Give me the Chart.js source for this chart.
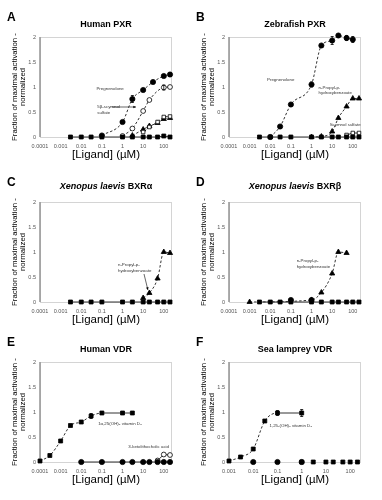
<!DOCTYPE html>
<html>
<head>
<meta charset="utf-8">
<script src="https://cdn.jsdelivr.net/npm/chart.js@4.4.1/dist/chart.umd.min.js"></script>
<style>
  body { margin: 0; background: #fff; width: 382px; height: 500px; position: relative; overflow: hidden;
         font-family: "Liberation Sans", Arial, sans-serif; }
  .pnl { position: absolute; width: 191px; height: 165px; }
  .pnl canvas { position: absolute; left: 0; top: 0; }
  .lt { position: absolute; left: 7px; top: 11px; font-weight: bold; font-size: 12px; line-height: 12px; }
  .tt { position: absolute; left: 40px; width: 132px; text-align: center; font-weight: bold;
        font-size: 9px; line-height: 9px; white-space: nowrap; }
</style>
</head>
<body>
<div class="pnl" style="left:0;top:0"><canvas id="cA" width="191" height="165"></canvas><div class="lt">A</div><div class="tt" style="top:20px">Human PXR</div></div>
<div class="pnl" style="left:189px;top:0"><canvas id="cB" width="191" height="165"></canvas><div class="lt">B</div><div class="tt" style="top:20px">Zebrafish PXR</div></div>
<div class="pnl" style="left:0;top:165px"><canvas id="cC" width="191" height="165"></canvas><div class="lt">C</div><div class="tt" style="top:17px"><i>Xenopus laevis</i> BXRα</div></div>
<div class="pnl" style="left:189px;top:165px"><canvas id="cD" width="191" height="165"></canvas><div class="lt">D</div><div class="tt" style="top:17px"><i>Xenopus laevis</i> BXRβ</div></div>
<div class="pnl" style="left:0;top:325px"><canvas id="cE" width="191" height="165"></canvas><div class="lt">E</div><div class="tt" style="top:20px">Human VDR</div></div>
<div class="pnl" style="left:189px;top:325px"><canvas id="cF" width="191" height="165"></canvas><div class="lt">F</div><div class="tt" style="top:20px">Sea lamprey VDR</div></div>

<script>
// axes
const X_TICKS = [0.0001, 0.001, 0.01, 0.1, 1, 10, 100];
const X_LABELS = ['0.0001', '0.001', '0.01', '0.1', '1', '10', '100'];
const X_TICKS_F = [0.001, 0.01, 0.1, 1, 10, 100];
const X_LABELS_F = ['0.001', '0.01', '0.1', '1', '10', '100'];
const Y_TICKS = [0, 0.5, 1, 1.5, 2];
const Y_LABELS = ['0', '0.5', '1', '1.5', '2'];

// A - human PXR
const hPXR_ctrlConc = [0.003, 0.01, 0.03, 0.1, 1, 3, 10, 20, 50, 100, 200];
const hPXR_ctrl = [0, 0, 0, 0, 0, 0, 0, 0, 0, 0.02, 0];
const hPXR_pregConc = [0.1, 1, 3, 10, 30, 100, 200];
const hPXR_preg = [0.03, 0.3, 0.76, 0.94, 1.1, 1.22, 1.25];
const hPXR_pregErr = [null, null, 0.07, null, null, null, 0.04];
const hPXR_scymConc = [1, 3, 10, 20, 100, 200];
const hPXR_scym = [0.02, 0.17, 0.52, 0.74, 0.99, 1.0];
const hPXR_triConc = [3, 10, 20, 50, 100, 200];
const hPXR_tri = [0.03, 0.15, 0.22, 0.28, 0.36, 0.38];
const hPXR_osqConc = [10, 20, 50, 100, 200];
const hPXR_osq = [0.1, 0.2, 0.3, 0.4, 0.41];

// B - zebrafish PXR
const zPXR_ctrlConc = [0.003, 0.01, 0.03, 0.1, 1, 3, 10, 20, 50, 100, 200];
const zPXR_ctrl = [0, 0, 0, 0, 0, 0, 0, 0, 0, 0, 0];
const zPXR_pregConc = [0.01, 0.03, 0.1, 1, 3, 10, 20, 50, 100];
const zPXR_preg = [0, 0.21, 0.65, 1.05, 1.83, 1.93, 2.03, 1.98, 1.95];
const zPXR_pregErr = [null, null, null, 0.05, null, 0.08, 0.03, 0.05, 0.06];
const zPXR_propConc = [1, 3, 10, 20, 50, 100, 200];
const zPXR_prop = [0, 0.01, 0.11, 0.38, 0.61, 0.77, 0.77];
const zPXR_scymConc = [50, 100, 200];
const zPXR_scym = [0.04, 0.08, 0.08];

// C - Xenopus BXRalpha
const xBXRa_ctrlConc = [0.003, 0.01, 0.03, 0.1, 1, 3, 10, 20, 50, 100, 200];
const xBXRa_ctrl = [0, 0, 0, 0, 0, 0, 0, 0, 0, 0, 0];
const xBXRa_propConc = [10, 20, 50, 100, 200];
const xBXRa_prop = [0.08, 0.18, 0.47, 1.0, 0.98];

// D - Xenopus BXRbeta
const xBXRb_ctrlConc = [0.003, 0.01, 0.03, 0.1, 1, 3, 10, 20, 50, 100, 200];
const xBXRb_ctrl = [0, 0, 0, 0, 0, 0, 0, 0, 0, 0, 0];
const xBXRb_circConc = [0.1, 1];
const xBXRb_circ = [0.04, 0.04];
const xBXRb_propConc = [0.001, 1, 3, 10, 20, 50];
const xBXRb_prop = [0, 0.04, 0.19, 0.57, 1.0, 0.98];

// E - human VDR
const hVDR_vdConc = [0.0001, 0.0003, 0.001, 0.003, 0.01, 0.03, 0.1, 1, 3];
const hVDR_vd = [0.02, 0.13, 0.42, 0.73, 0.8, 0.92, 0.98, 0.98, 0.98];
const hVDR_vdErr = [null, null, null, null, null, 0.05, null, null, null];
const hVDR_ctrlConc = [0.01, 0.1, 1, 3, 10, 20, 50, 100, 200];
const hVDR_ctrl = [0, 0, 0, 0, 0, 0, 0, 0, 0];
const hVDR_klcaConc = [50, 100, 200];
const hVDR_klca = [0.03, 0.15, 0.14];

// F - sea lamprey VDR
const lVDR_vdConc = [0.001, 0.003, 0.01, 0.03, 0.1, 1];
const lVDR_vd = [0.02, 0.1, 0.26, 0.82, 0.98, 0.98];
const lVDR_vdErr = [null, null, null, null, 0.05, 0.07];
const lVDR_circConc = [0.01, 0.1, 1];
const lVDR_circ = [0, 0, 0];
const lVDR_sqConc = [1, 3, 10, 20, 50, 100, 200];
const lVDR_sq = [0, 0, 0, 0, 0, 0, 0];

const MARKS = {
  fc: { style: 'circle', r: 2.6, fill: '#000' },
  oc: { style: 'circle', r: 2.4, fill: '#fff' },
  fs: { style: 'rect', r: 2.8, fill: '#000' },
  os: { style: 'rect', r: 2.5, fill: '#fff' },
  ft: { style: 'triangle', r: 3, fill: '#000' }
};

function series(xs, ys, mark, line, extra) {
  const m = MARKS[mark];
  return Object.assign({
    data: xs.map((v, i) => ({ x: v, y: ys[i] })),
    pointStyle: m.style, pointRadius: m.r, pointBackgroundColor: m.fill,
    pointBorderColor: '#000', pointBorderWidth: 0.8,
    showLine: line !== 'none', borderColor: '#333',
    borderWidth: 1,
    borderDash: line === 'dash' ? [2.5, 2] : [],
    cubicInterpolationMode: line === 'dash' ? 'monotone' : 'default',
    clip: false
  }, extra || {});
}

const decor = {
  id: 'decor',
  beforeDatasetsDraw(chart) {
    const { ctx, chartArea: a } = chart;
    ctx.save();
    ctx.strokeStyle = '#d4d4d4';
    ctx.lineWidth = 1;
    ctx.strokeRect(a.left + 0.5, a.top + 0.5, a.right - a.left - 1, a.bottom - a.top);
    ctx.strokeStyle = '#9a9a9a';
    ctx.lineWidth = 1.6;
    ctx.beginPath();
    ctx.moveTo(a.left, a.top);
    ctx.lineTo(a.left, a.bottom);
    ctx.stroke();
    ctx.restore();
  },
  afterDatasetsDraw(chart, args, opts) {
    const { ctx, scales: { x, y } } = chart;
    ctx.save();
    ctx.strokeStyle = '#000';
    ctx.lineWidth = 0.8;
    chart.data.datasets.forEach(ds => {
      if (!ds.errs) return;
      ds.data.forEach((p, i) => {
        const e = ds.errs[i];
        if (!e) return;
        const px = x.getPixelForValue(p.x);
        const y0 = y.getPixelForValue(p.y - e), y1 = y.getPixelForValue(p.y + e);
        ctx.beginPath();
        ctx.moveTo(px, y0); ctx.lineTo(px, y1);
        ctx.moveTo(px - 1.5, y0); ctx.lineTo(px + 1.5, y0);
        ctx.moveTo(px - 1.5, y1); ctx.lineTo(px + 1.5, y1);
        ctx.stroke();
      });
    });
    ctx.fillStyle = '#333';
    ctx.font = '4.4px "Liberation Sans", Arial, sans-serif';
    ctx.textBaseline = 'middle';
    (opts.labels || []).forEach(l => {
      ctx.textAlign = l.align || 'left';
      const px = x.getPixelForValue(l.x), py = y.getPixelForValue(l.y);
      l.lines.forEach((t, k) => ctx.fillText(t, px, py + k * 5.5));
    });
    (opts.arrows || []).forEach(r => {
      const x0 = x.getPixelForValue(r[0]), y0 = y.getPixelForValue(r[1]);
      const x1 = x.getPixelForValue(r[2]), y1 = y.getPixelForValue(r[3]);
      const ang = Math.atan2(y1 - y0, x1 - x0);
      ctx.lineWidth = 0.6;
      ctx.beginPath(); ctx.moveTo(x0, y0); ctx.lineTo(x1, y1); ctx.stroke();
      ctx.beginPath();
      ctx.moveTo(x1, y1);
      ctx.lineTo(x1 - 3 * Math.cos(ang - 0.45), y1 - 3 * Math.sin(ang - 0.45));
      ctx.lineTo(x1 - 3 * Math.cos(ang + 0.45), y1 - 3 * Math.sin(ang + 0.45));
      ctx.closePath();
      ctx.fillStyle = '#000';
      ctx.fill();
    });
    ctx.restore();
  }
};

const FONT = '"Liberation Sans", Arial, sans-serif';

function makePanel(id, cfg) {
  const xt = cfg.xticks || X_TICKS, xl = cfg.xlabels || X_LABELS;
  return new Chart(document.getElementById(id), {
    type: 'line',
    data: { datasets: cfg.datasets },
    options: {
      responsive: false, animation: false,
      layout: { padding: { top: 37, right: 19, left: 0, bottom: 0 } },
      plugins: { legend: { display: false }, tooltip: { enabled: false }, decor: { labels: cfg.labels, arrows: cfg.arrows } },
      scales: {
        x: {
          type: 'logarithmic', min: cfg.xmin || 0.0001, max: cfg.xmax || 250,
          afterBuildTicks: s => { s.ticks = xt.map(v => ({ value: v })); },
          afterFit: s => { s.height = 28; },
          grid: { display: false, drawTicks: false }, border: { display: false },
          ticks: { autoSkip: false, maxRotation: 0, padding: 6, color: '#555', font: { family: FONT, size: 5.5 },
                   callback: (v, i) => xl[i] },
          title: { display: true, text: '[Ligand] (µM)', color: '#000', padding: { top: 0, bottom: 3 },
                   font: { family: FONT, size: 11.5, lineHeight: 1.2 } }
        },
        y: {
          min: 0, max: 2,
          afterBuildTicks: s => { s.ticks = Y_TICKS.map(v => ({ value: v })); },
          afterFit: s => { s.width = 40; },
          grid: { display: false, drawTicks: false }, border: { display: false },
          ticks: { padding: 4, color: '#555', font: { family: FONT, size: 5.5 }, callback: (v, i) => Y_LABELS[i] },
          title: { display: true, text: ['Fraction of maximal activation -', 'normalized'], color: '#000',
                   padding: { top: 11, bottom: 0 }, font: { family: FONT, size: 7.8, lineHeight: 1.0 } }
        }
      }
    },
    plugins: [decor]
  });
}

makePanel('cA', {
  datasets: [
    series(hPXR_ctrlConc, hPXR_ctrl, 'fs', 'solid'),
    series(hPXR_osqConc, hPXR_osq, 'os', 'dash'),
    series(hPXR_triConc, hPXR_tri, 'ft', 'dash'),
    series(hPXR_scymConc, hPXR_scym, 'oc', 'dash', { errs: [null, null, null, null, 0.05, null] }),
    series(hPXR_pregConc, hPXR_preg, 'fc', 'dash', { errs: hPXR_pregErr })
  ],
  labels: [
    { x: 0.25, y: 0.96, lines: ['Pregnenolone'], align: 'center' },
    { x: 0.06, y: 0.6, lines: ['5β-scymnol', 'sulfate'] }
  ],
  arrows: [[0.3, 0.6, 4.5, 0.6]]
});

makePanel('cB', {
  datasets: [
    series(zPXR_ctrlConc, zPXR_ctrl, 'fs', 'solid'),
    series(zPXR_scymConc, zPXR_scym, 'os', 'solid'),
    series(zPXR_propConc, zPXR_prop, 'ft', 'dash'),
    series(zPXR_pregConc, zPXR_preg, 'fc', 'dash', { errs: zPXR_pregErr })
  ],
  labels: [
    { x: 0.032, y: 1.15, lines: ['Pregnenolone'], align: 'center' },
    { x: 2.2, y: 0.99, lines: ['n-Propyl-p-', 'hydroxybenzoate'] },
    { x: 240, y: 0.25, lines: ['Scymnol sulfate'], align: 'right' }
  ]
});

makePanel('cC', {
  datasets: [
    series(xBXRa_ctrlConc, xBXRa_ctrl, 'fs', 'solid'),
    series(xBXRa_propConc, xBXRa_prop, 'ft', 'dash')
  ],
  labels: [{ x: 0.6, y: 0.74, lines: ['n-Propyl-p-', 'hydroxybenzoate'] }],
  arrows: [[11, 0.56, 17, 0.24]]
});

makePanel('cD', {
  datasets: [
    series(xBXRb_ctrlConc, xBXRb_ctrl, 'fs', 'solid'),
    series(xBXRb_circConc, xBXRb_circ, 'fc', 'none'),
    series(xBXRb_propConc, xBXRb_prop, 'ft', 'dash')
  ],
  labels: [{ x: 0.19, y: 0.82, lines: ['n-Propyl-p-', 'hydroxybenzoate'] }]
});

makePanel('cE', {
  datasets: [
    series(hVDR_ctrlConc, hVDR_ctrl, 'fc', 'solid'),
    series(hVDR_klcaConc, hVDR_klca, 'oc', 'solid'),
    series(hVDR_vdConc, hVDR_vd, 'fs', 'dash', {
      errs: hVDR_vdErr,
      segment: { borderDash: c => c.p0DataIndex < 6 ? [2.5, 2] : [] }
    })
  ],
  labels: [
    { x: 0.066, y: 0.76, lines: ['1α,25(OH)₂ vitamin D₃'] },
    { x: 1.9, y: 0.3, lines: ['3-ketolithocholic acid'] }
  ]
});

makePanel('cF', {
  xmin: 0.001, xmax: 280, xticks: X_TICKS_F, xlabels: X_LABELS_F,
  datasets: [
    series(lVDR_sqConc, lVDR_sq, 'fs', 'none'),
    series(lVDR_circConc, lVDR_circ, 'fc', 'none'),
    series(lVDR_vdConc, lVDR_vd, 'fs', 'dash', {
      errs: lVDR_vdErr,
      segment: { borderDash: c => c.p0DataIndex < 4 ? [2.5, 2] : [] }
    })
  ],
  labels: [{ x: 0.047, y: 0.72, lines: ['1,25-(OH)₂ vitamin D₃'] }]
});
</script>
</body>
</html>
